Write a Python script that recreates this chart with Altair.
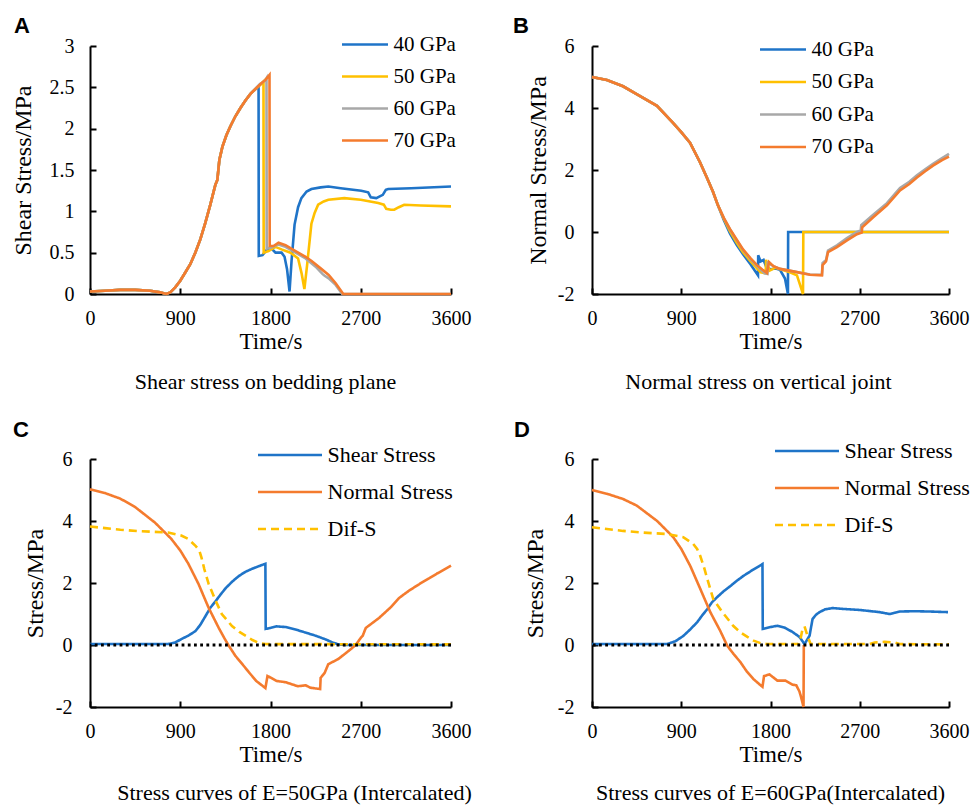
import altair as alt
import pandas as pd

SERIF = "Liberation Serif"
SANS = "Liberation Sans"

BLUE = "#1F74C8"
ORANGE = "#F47B2E"
YELLOW = "#FFC000"
GRAY = "#A8A8A8"

TIME_TICKS = [0, 900, 1800, 2700, 3600]
SHEAR_TICKS = [0, 0.5, 1, 1.5, 2, 2.5, 3]
STRESS_TICKS = [-2, 0, 2, 4, 6]

MODULI = ["40 GPa", "50 GPa", "60 GPa", "70 GPa"]
COMPONENTS = ["Shear Stress", "Normal Stress", "Dif-S"]
LETTERS = ["A", "B", "C", "D"]
SUBTITLES = [
    "Shear stress on bedding plane",
    "Normal stress on vertical joint",
    "Stress curves of E=50GPa (Intercalated)",
    "Stress curves of E=60GPa(Intercalated)",
]

# ---- A: shear stress on the bedding plane -------------------------------
# loading branch shared by all moduli (before slip)
A_RISE_T = [0, 150, 300, 450, 600, 700, 760, 800, 850, 900, 950, 1000, 1050,
            1100, 1150, 1200, 1250, 1270, 1290, 1320, 1360, 1400, 1450, 1500,
            1550, 1600, 1650]
A_RISE_V = [0.03, 0.04, 0.05, 0.05, 0.04, 0.02, 0.0, 0.02, 0.08, 0.16, 0.26,
            0.36, 0.50, 0.66, 0.86, 1.08, 1.32, 1.38, 1.62, 1.78, 1.92, 2.03,
            2.15, 2.25, 2.34, 2.42, 2.48]

A40_T = [1681, 1683, 1720, 1760, 1810, 1850, 1910, 1940, 1965, 1990, 2010,
         2040, 2075, 2108, 2160, 2208, 2300, 2377, 2500, 2705, 2774, 2800,
         2855, 2920, 2950, 2974, 3203, 3600]
A40_V = [2.52, 0.46, 0.47, 0.53, 0.55, 0.50, 0.50, 0.45, 0.30, 0.03, 0.40,
         0.84, 1.05, 1.16, 1.24, 1.27, 1.29, 1.30, 1.28, 1.25, 1.23, 1.17,
         1.16, 1.20, 1.26, 1.27, 1.28, 1.30]

A50_T = [1700, 1730, 1732, 1780, 1850, 1910, 2000, 2075, 2110, 2138, 2165,
         2208, 2240, 2275, 2330, 2377, 2536, 2700, 2874, 2930, 2954, 3000,
         3034, 3080, 3133, 3300, 3600]
A50_V = [2.53, 2.57, 0.50, 0.52, 0.57, 0.54, 0.50, 0.43, 0.25, 0.06, 0.35,
         0.85, 0.98, 1.08, 1.12, 1.14, 1.16, 1.14, 1.10, 1.08, 1.03, 1.02,
         1.02, 1.05, 1.08, 1.07, 1.06]

A60_T = [1700, 1750, 1760, 1762, 1800, 1880, 1950, 2050, 2150, 2250, 2320,
         2340, 2380, 2450, 2515, 3600]
A60_V = [2.54, 2.59, 2.61, 0.55, 0.56, 0.60, 0.57, 0.50, 0.43, 0.33, 0.24,
         0.22, 0.19, 0.11, 0.0, 0.0]

A70_T = [1700, 1750, 1790, 1792, 1830, 1880, 1950, 2050, 2150, 2210, 2300,
         2380, 2450, 2526, 3600]
A70_V = [2.54, 2.59, 2.65, 0.58, 0.58, 0.62, 0.59, 0.52, 0.45, 0.40, 0.31,
         0.23, 0.13, 0.0, 0.0]

# ---- B: normal stress on the vertical joint ------------------------------
B_FALL_T = [0, 150, 313, 450, 655, 817, 900, 988, 1089, 1159, 1220, 1270]
B_FALL_V = [5.0, 4.9, 4.7, 4.45, 4.07, 3.52, 3.22, 2.88, 2.25, 1.75, 1.30, 0.86]

B40_T = [1330, 1392, 1460, 1523, 1600, 1674, 1676, 1700, 1730, 1760, 1800,
         1850, 1896, 1946, 1976, 1978, 3600]
B40_V = [0.38, -0.05, -0.42, -0.72, -1.05, -1.40, -0.75, -0.95, -0.90, -1.15,
         -1.20, -1.18, -1.22, -1.50, -2.0, 0.0, 0.0]

B50_T = [1330, 1392, 1460, 1523, 1600, 1700, 1752, 1755, 1790, 1850, 1900,
         1996, 2067, 2128, 2131, 3600]
B50_V = [0.42, 0.02, -0.35, -0.65, -0.95, -1.30, -1.33, -0.90, -1.25, -1.15,
         -1.20, -1.30, -1.40, -2.0, 0.0, 0.0]

B60_T = [1330, 1392, 1460, 1523, 1600, 1664, 1740, 1770, 1773, 1830, 1896,
         2027, 2198, 2319, 2325, 2360, 2380, 2470, 2571, 2672, 2710, 2715,
         2833, 2974, 3106, 3200, 3277, 3360, 3439, 3530, 3600]
B60_V = [0.45, 0.08, -0.27, -0.58, -0.88, -1.10, -1.33, -1.35, -1.0, -1.10,
         -1.19, -1.27, -1.37, -1.38, -1.0, -0.90, -0.60, -0.43, -0.20, 0.0,
         0.05, 0.22, 0.55, 0.93, 1.42, 1.62, 1.83, 2.02, 2.20, 2.38, 2.52]

B70_T = [1330, 1392, 1460, 1523, 1600, 1664, 1720, 1764, 1785, 1830, 1896,
         2027, 2198, 2319, 2325, 2360, 2380, 2470, 2571, 2672, 2720, 2725,
         2833, 2974, 3106, 3200, 3277, 3360, 3439, 3530, 3600]
B70_V = [0.45, 0.09, -0.25, -0.56, -0.85, -1.07, -1.22, -1.32, -0.97, -1.10,
         -1.19, -1.27, -1.38, -1.40, -1.07, -0.95, -0.65, -0.49, -0.27, -0.07,
         -0.02, 0.15, 0.47, 0.86, 1.34, 1.55, 1.76, 1.96, 2.14, 2.32, 2.43]

# ---- C: E = 50 GPa (intercalated) ---------------------------------------
C_SHEAR_T = [0, 400, 779, 850, 910, 980, 1052, 1100, 1153, 1200, 1254, 1300,
             1355, 1420, 1486, 1550, 1618, 1690, 1749, 1752, 1800, 1860, 1950,
             2050, 2150, 2250, 2350, 2420, 2477, 2550, 3600]
C_SHEAR_V = [0.03, 0.03, 0.03, 0.08, 0.19, 0.30, 0.45, 0.65, 0.94, 1.20, 1.42,
             1.62, 1.84, 2.05, 2.23, 2.36, 2.46, 2.55, 2.62, 0.52, 0.55, 0.60,
             0.58, 0.50, 0.40, 0.30, 0.18, 0.08, 0.02, 0.0, 0.0]
C_NORMAL_T = [0, 150, 303, 450, 647, 809, 900, 981, 1082, 1183, 1284, 1340,
              1385, 1450, 1517, 1590, 1658, 1749, 1770, 1800, 1860, 1950, 2073,
              2150, 2200, 2295, 2300, 2340, 2376, 2477, 2579, 2650, 2700, 2720,
              2750, 2882, 3000, 3084, 3180, 3287, 3380, 3458, 3600]
C_NORMAL_V = [5.02, 4.9, 4.72, 4.45, 3.95, 3.43, 3.05, 2.62, 1.97, 1.20, 0.55,
              0.22, -0.03, -0.35, -0.61, -0.90, -1.16, -1.39, -1.0, -1.05,
              -1.16, -1.20, -1.33, -1.30, -1.38, -1.42, -1.06, -0.90, -0.62,
              -0.45, -0.19, 0.0, 0.23, 0.30, 0.55, 0.87, 1.22, 1.52, 1.75, 1.97,
              2.15, 2.30, 2.56]
C_DIF_T = [0, 150, 303, 500, 779, 910, 980, 1052, 1090, 1112, 1140, 1183, 1254,
           1314, 1416, 1490, 1557, 1620, 1688, 1750, 3600]
C_DIF_V = [3.82, 3.77, 3.72, 3.67, 3.63, 3.53, 3.42, 3.20, 3.05, 2.82, 2.45,
           1.97, 1.42, 1.0, 0.61, 0.42, 0.29, 0.16, 0.06, 0.03, 0.02]

# ---- D: E = 60 GPa (intercalated) ---------------------------------------
D_SHEAR_T = [0, 400, 758, 840, 920, 990, 1062, 1110, 1163, 1210, 1264, 1330,
             1395, 1460, 1527, 1620, 1719, 1722, 1800, 1870, 1950, 2022, 2092,
             2143, 2194, 2224, 2260, 2295, 2350, 2426, 2550, 2699, 2901, 2950,
             3002, 3050, 3104, 3250, 3400, 3590]
D_SHEAR_V = [0.03, 0.03, 0.03, 0.12, 0.29, 0.50, 0.74, 0.95, 1.16, 1.38, 1.55,
             1.74, 1.90, 2.07, 2.23, 2.42, 2.61, 0.52, 0.58, 0.62, 0.55, 0.42,
             0.26, 0.03, 0.30, 0.84, 0.98, 1.06, 1.15, 1.19, 1.16, 1.13, 1.06,
             1.03, 1.0, 1.04, 1.08, 1.09, 1.08, 1.06]
D_NORMAL_T = [0, 150, 313, 450, 657, 819, 900, 991, 1092, 1193, 1294, 1365,
              1430, 1496, 1560, 1628, 1719, 1735, 1790, 1870, 1950, 2022, 2060,
              2092, 2110, 2133, 2136]
D_NORMAL_V = [5.0, 4.88, 4.71, 4.5, 4.0, 3.48, 3.1, 2.55, 1.81, 1.06, 0.45,
              -0.03, -0.30, -0.55, -0.85, -1.10, -1.35, -1.0, -0.95, -1.15,
              -1.15, -1.28, -1.30, -1.50, -1.70, -2.0, 0.0]
D_DIF_T = [0, 150, 313, 500, 758, 920, 1021, 1060, 1092, 1130, 1163, 1223,
           1314, 1426, 1500, 1567, 1630, 1699, 1760, 2080, 2100, 2123, 2143,
           2174, 2204, 2800, 2850, 2950, 3050, 3100, 3600]
D_DIF_V = [3.8, 3.74, 3.68, 3.63, 3.58, 3.48, 3.26, 3.1, 2.87, 2.5, 2.13, 1.48,
           1.06, 0.61, 0.40, 0.26, 0.14, 0.06, 0.03, 0.03, 0.15, 0.52, 0.60,
           0.29, 0.03, 0.03, 0.08, 0.10, 0.08, 0.03, 0.02]


def frame(parts):
    """Stack (name, times, values) triples into one long table."""
    rows = []
    for name, ts, vs in parts:
        for i, (t, v) in enumerate(zip(ts, vs)):
            rows.append({"t": t, "v": v, "s": name, "o": i})
    return pd.DataFrame(rows)


def before(ts, vs, limit):
    keep = [(t, v) for t, v in zip(ts, vs) if t < limit]
    return [t for t, _ in keep], [v for _, v in keep]


def joined(head, tail_t, tail_v):
    ht, hv = before(head[0], head[1], tail_t[0])
    return ht + tail_t, hv + tail_v


a_rise = (A_RISE_T, A_RISE_V)
b_fall = (B_FALL_T, B_FALL_V)
df_a = frame([
    ("40 GPa", *joined(a_rise, A40_T, A40_V)),
    ("50 GPa", *joined(a_rise, A50_T, A50_V)),
    ("60 GPa", *joined(a_rise, A60_T, A60_V)),
    ("70 GPa", *joined(a_rise, A70_T, A70_V)),
])
df_b = frame([
    ("40 GPa", *joined(b_fall, B40_T, B40_V)),
    ("50 GPa", *joined(b_fall, B50_T, B50_V)),
    ("60 GPa", *joined(b_fall, B60_T, B60_V)),
    ("70 GPa", *joined(b_fall, B70_T, B70_V)),
])
df_c = frame([
    ("Shear Stress", C_SHEAR_T, C_SHEAR_V),
    ("Normal Stress", C_NORMAL_T, C_NORMAL_V),
    ("Dif-S", C_DIF_T, C_DIF_V),
])
df_d = frame([
    ("Shear Stress", D_SHEAR_T, D_SHEAR_V),
    ("Normal Stress", D_NORMAL_T, D_NORMAL_V),
    ("Dif-S", D_DIF_T, D_DIF_V),
])

H = 248
W_LEFT = 361
W_RIGHT = 357

# plain hyphen for negative tick labels
PLAIN_LABEL = "'' + datum.value"


def panel(df, width, y_domain, y_ticks, y_title, series, colors, leg,
          letter, letter_xy, subtitle, sub_dx, sub_offset, y_label_pad,
          y_title_pad, dashes=None, zero_line=False):
    xs = alt.Scale(domain=[0, 3600], nice=False, zero=False)
    ys = alt.Scale(domain=y_domain, nice=False, zero=False)

    x_main = alt.Axis(values=TIME_TICKS, labelExpr=PLAIN_LABEL,
                      orient="bottom", ticks=False, grid=False,
                      domainColor="black", domainWidth=2, labelFont=SERIF,
                      labelFontSize=20, labelColor="black", labelPadding=14,
                      labelFlush=False, labelOverlap=False, title="Time/s",
                      titleFont=SERIF, titleFontSize=23,
                      titleFontWeight="normal", titleColor="black",
                      titlePadding=2)
    y_main = alt.Axis(values=y_ticks, labelExpr=PLAIN_LABEL, orient="left",
                      ticks=False, grid=False, domainColor="black",
                      domainWidth=2, labelFont=SERIF, labelFontSize=20,
                      labelColor="black", labelPadding=y_label_pad,
                      labelFlush=False, labelOverlap=False, title=y_title,
                      titleFont=SERIF, titleFontSize=24,
                      titleFontWeight="normal", titleColor="black",
                      titlePadding=y_title_pad)
    # inward-pointing tick marks, drawn by an axis folded onto the frame
    x_ticks = alt.Axis(values=TIME_TICKS, orient="top", offset=-H,
                       ticks=True, tickSize=6, tickWidth=2, tickColor="black",
                       domain=False, labels=False, grid=False, title=None)
    y_ticks_in = alt.Axis(values=y_ticks, orient="right", offset=-width,
                          ticks=True, tickSize=6, tickWidth=2,
                          tickColor="black", domain=False, labels=False,
                          grid=False, title=None)

    legend = alt.Legend(orient="none", legendX=leg["x"], legendY=leg["y"],
                        title=None, symbolType=leg["symbol"], symbolSize=400,
                        symbolStrokeWidth=2.5, labelFont=SERIF,
                        labelFontSize=leg["font"], labelColor="black",
                        labelOffset=4, rowPadding=leg["row"], padding=0)

    enc = dict(
        x=alt.X("t:Q", scale=xs, axis=x_main),
        y=alt.Y("v:Q", scale=ys, axis=y_main),
        color=alt.Color("s:N", scale=alt.Scale(domain=series, range=colors),
                        legend=legend, title=None),
        order=alt.Order("o:Q"),
    )
    if dashes is not None:
        enc["strokeDash"] = alt.StrokeDash(
            "s:N", scale=alt.Scale(domain=series, range=dashes),
            legend=legend, title=None)
    lines = alt.Chart(df).mark_line(strokeWidth=2.6).encode(**enc)

    layers = [lines]
    if zero_line:
        layers.append(
            alt.Chart(pd.DataFrame({"v": [0]})).mark_rule(
                color="black", strokeWidth=3, strokeDash=[2.8, 3.4]
            ).encode(y=alt.Y("v:Q", scale=ys, axis=None))
        )
    layers.append(
        alt.Chart(df).mark_line(opacity=0).encode(
            x=alt.X("t:Q", scale=xs, axis=x_ticks),
            y=alt.Y("v:Q", scale=ys, axis=y_ticks_in),
        )
    )
    layers.append(
        alt.Chart(pd.DataFrame({"p": [letter]})).mark_text(
            font=SANS, fontSize=22, fontWeight="bold", align="left",
            baseline="alphabetic", color="black"
        ).encode(text="p:N", x=alt.value(letter_xy[0]),
                 y=alt.value(letter_xy[1]))
    )
    return alt.layer(*layers).resolve_axis(
        x="independent", y="independent"
    ).properties(
        width=width, height=H,
        title=alt.TitleParams(subtitle, orient="bottom", anchor="middle",
                              font=SERIF, fontSize=22, fontWeight="normal",
                              color="black", offset=sub_offset, dx=sub_dx),
    )


GPA_COLORS = [BLUE, YELLOW, GRAY, ORANGE]
COMP_COLORS = [BLUE, ORANGE, YELLOW]
COMP_DASHES = [[1, 0], [1, 0], [8, 5]]

short_line = "M-3.6,0H1"
long_line = "M-5.4,0H1"

pa = panel(df_a, W_LEFT, [0, 3], SHEAR_TICKS, "Shear Stress/MPa", MODULI,
           GPA_COLORS, {"x": 276.5, "y": -13, "symbol": short_line,
                        "row": 10, "font": 21},
           LETTERS[0], (-76, -13), SUBTITLES[0], -5, 19, 16, 14)
pb = panel(df_b, W_RIGHT, [-2, 6], STRESS_TICKS, "Normal Stress/MPa", MODULI,
           GPA_COLORS, {"x": 192.5, "y": -8, "symbol": short_line,
                        "row": 10.5, "font": 21},
           LETTERS[1], (-79, -13), SUBTITLES[1], -12, 19, 18, 7)
pc = panel(df_c, W_LEFT, [-2, 6], STRESS_TICKS, "Stress/MPa", COMPONENTS,
           COMP_COLORS, {"x": 210.5, "y": -15.5, "symbol": long_line,
                         "row": 14, "font": 22},
           LETTERS[2], (-77, -22), SUBTITLES[2], 24, 17, 18, 8,
           dashes=COMP_DASHES, zero_line=True)
pd_ = panel(df_d, W_RIGHT, [-2, 6], STRESS_TICKS, "Stress/MPa", COMPONENTS,
            COMP_COLORS, {"x": 225.5, "y": -19.5, "symbol": long_line,
                          "row": 14, "font": 22},
            LETTERS[3], (-78, -22), SUBTITLES[3], 0, 17, 18, 10,
            dashes=COMP_DASHES, zero_line=True)

chart = alt.concat(
    pa, pb, pc, pd_, columns=2, bounds="flush",
    spacing={"row": 165, "column": 141},
).resolve_scale(
    x="independent", y="independent", color="independent",
    strokeDash="independent",
).resolve_legend(
    color="independent", strokeDash="independent",
).properties(
    autosize=alt.AutoSizeParams(type="none"),
    padding={"left": 90, "top": 46, "right": 881, "bottom": 761},
).configure(
    background="white", font=SERIF,
).configure_view(
    stroke="transparent",
).configure_axis(
    labelFont=SERIF, titleFont=SERIF,
).configure_legend(
    labelFont=SERIF,
)

chart.save("out.html", embed_options={"renderer": "svg", "actions": False})
